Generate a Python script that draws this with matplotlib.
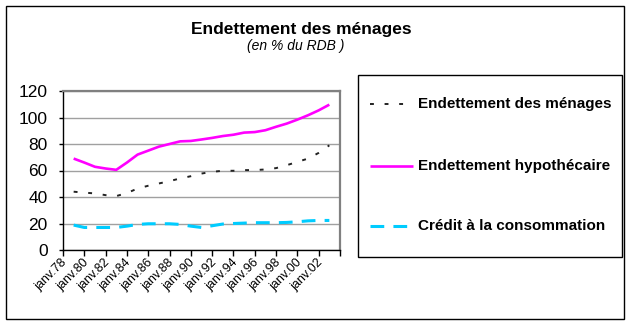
import matplotlib
matplotlib.use("Agg")
import matplotlib.pyplot as plt
from matplotlib.patches import Rectangle
from matplotlib.lines import Line2D
from matplotlib.transforms import ScaledTranslation

plt.rcParams['font.family'] = ['Liberation Sans', 'DejaVu Sans']

years = list(range(1978, 2003))
menages = [44, 43.3, 42.7, 41.4, 40.7, 43, 46.4, 48.5, 50.2, 52, 54, 55.7, 57.7,
           59, 59.8, 59.8, 60.3, 60.3, 60.8, 61.8, 64, 66.5, 69, 73.3, 79]
hypothecaire = [69, 66, 62.8, 61.5, 60.5, 66, 72, 75, 78, 80, 82, 82.3, 83.4,
                84.6, 86, 87, 88.6, 89, 90.4, 93, 95.4, 98.4, 101.7, 105.4, 109.7]
credit = [18.8, 17, 17, 17, 17, 18, 19.3, 19.8, 19.8, 19.8, 19.3, 18, 17,
          18.3, 19.6, 20, 20.3, 20.6, 20.6, 20.6, 20.8, 21.3, 22, 22.3, 22.3]
label_years = list(range(1978, 2003, 2))
tick_labels = ["janv.%02d" % (y % 100) for y in label_years]
series_names = ["Endettement des ménages", "Endettement hypothécaire",
                "Crédit à la consommation"]
title = "Endettement des ménages"
subtitle = "(en % du RDB )"

W, H = 630, 324
fig = plt.figure(figsize=(W / 100, H / 100), dpi=100)

def fx(px):
    return px / W

def fy(py):
    return 1 - py / H

# outer frame
fig.patches.append(Rectangle((fx(6), fy(319)), fx(618), 313 / H, transform=fig.transFigure,
                             fill=False, edgecolor='black', linewidth=1.0))

ax = fig.add_axes([fx(63), fy(250), fx(340) - fx(63), fy(91) - fy(250)])

styles = [
    dict(color='#222222', linewidth=1.4, linestyle=(0, (2.0, 5.5))),
    dict(color='#FF00FF', linewidth=1.9, linestyle='-'),
    dict(color='#00CCFF', linewidth=2.2, linestyle=(0, (4.5, 3.0))),
]
for vals, st in zip([menages, hypothecaire, credit], styles):
    ax.plot(years, vals, solid_capstyle='butt', dash_capstyle='butt', **st)

ax.set_xlim(1977, 2003)
ax.set_ylim(0, 120)
ax.set_yticks(range(0, 121, 20))
ax.tick_params(axis='y', direction='out', length=3, width=1, pad=8, labelsize=12.5)
ax.set_xticks(range(1977, 2004, 2))
ax.set_xticklabels([])
ax.tick_params(axis='x', which='major', direction='out', length=4, width=1)
ax.set_xticks(label_years, minor=True)
ax.set_xticklabels(tick_labels, minor=True, rotation=45, ha='right', va='top',
                   fontsize=9)
ax.tick_params(axis='x', which='minor', length=0, pad=5)
for lbl in ax.get_xticklabels(minor=True):
    lbl.set_transform(lbl.get_transform() + ScaledTranslation(-4 / 100, 0, fig.dpi_scale_trans))

ax.grid(axis='y', color='#A0A0A0', linewidth=1.0)
ax.set_axisbelow(True)
for s in ['top', 'right']:
    ax.spines[s].set_color('#808080')
    ax.spines[s].set_linewidth(1.6)
for s in ['left', 'bottom']:
    ax.spines[s].set_color('black')
    ax.spines[s].set_linewidth(1.0)

# titles
fig.text(fx(301), fy(34), title, ha='center', va='baseline', fontsize=12.5, fontweight='bold')
fig.text(fx(296), fy(50), subtitle, ha='center', va='baseline', fontsize=10, style='italic')

# legend box
fig.patches.append(Rectangle((fx(358), fy(257)), fx(622) - fx(358), fy(75) - fy(257),
                             transform=fig.transFigure, fill=False, edgecolor='black',
                             linewidth=1.0))
row_y = [104, 166, 226]
for name, st, yy in zip(series_names, styles, row_y):
    fig.lines.append(Line2D([fx(370), fx(413)], [fy(yy), fy(yy)], transform=fig.transFigure,
                            dash_capstyle='butt', solid_capstyle='butt', **st))
    fig.text(fx(418), fy(yy), name, ha='left', va='center', fontsize=11, fontweight='bold')

fig.savefig("out.png", dpi=100)
